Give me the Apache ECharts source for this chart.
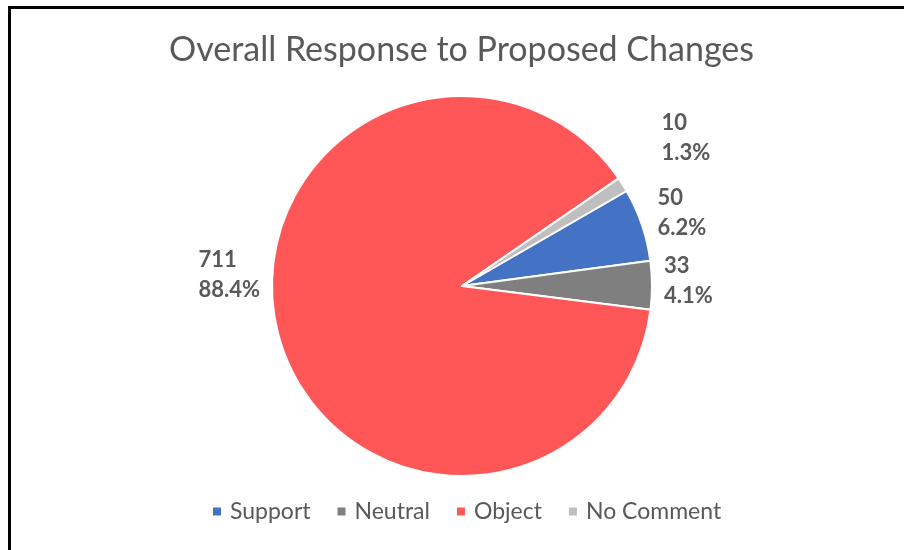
<!DOCTYPE html>
<html>
<head>
<meta charset="utf-8">
<script src="https://cdn.jsdelivr.net/npm/echarts@6/dist/echarts.min.js"></script>
<style>
  html, body { margin: 0; padding: 0; background: #ffffff; }
  #chart { width: 904px; height: 550px; }
</style>
</head>
<body>
<div id="chart"></div>
<script>
const categories = ['Support', 'Neutral', 'Object', 'No Comment']
const responses = [50, 33, 711, 10]
const sliceColors = ['#4472C4', '#7F7F7F', '#FF5757', '#BFBFBF']

const chart = echarts.init(document.getElementById('chart'))

// label nudges so they sit where the original "best fit" put them
const labelNudge = [
  { dx: -1, dy: -9 },
  { dx: -5, dy: -4 },
  { dx: -62, dy: -58, align: 'left' },
  { dx: 23, dy: -42 }
]

const option = {
  backgroundColor: '#ffffff',
  textStyle: { fontFamily: 'Lato, "Open Sans", sans-serif' },
  title: {
    text: 'Overall Response to Proposed Changes',
    left: 164,
    top: 28,
    textStyle: {
      color: '#595959',
      fontSize: 34,
      fontWeight: 'normal',
      fontFamily: 'Lato, "Open Sans", sans-serif'
    }
  },
  legend: {
    bottom: 22,
    left: 206,
    icon: 'rect',
    itemWidth: 10,
    itemHeight: 10,
    itemGap: 25,
    textStyle: { color: '#595959', fontSize: 23, padding: [0, 0, 0, 3] },
    data: categories
  },
  graphic: [{
    type: 'rect',
    shape: { x: 9.5, y: 7.5, width: 920, height: 560 },
    style: { fill: 'none', stroke: '#000000', lineWidth: 3 },
    silent: true
  }],
  series: [{
    type: 'pie',
    center: [462, 286],
    radius: [0, 190],
    startAngle: 30,
    clockwise: true,
    percentPrecision: 1,
    avoidLabelOverlap: false,
    itemStyle: { borderColor: '#ffffff', borderWidth: 2 },
    label: {
      show: true,
      position: 'outside',
      color: '#595959',
      fontSize: 22,
      fontWeight: 'bold',
      lineHeight: 30,
      formatter: '{c}\n{d}%'
    },
    labelLine: { show: false, length: 8, length2: 4 },
    labelLayout: (p) => labelNudge[p.dataIndex],
    emphasis: { disabled: true },
    data: categories.map((name, i) => ({
      name: name,
      value: responses[i],
      itemStyle: { color: sliceColors[i] }
    }))
  }]
}

chart.setOption(option)
</script>
</body>
</html>
